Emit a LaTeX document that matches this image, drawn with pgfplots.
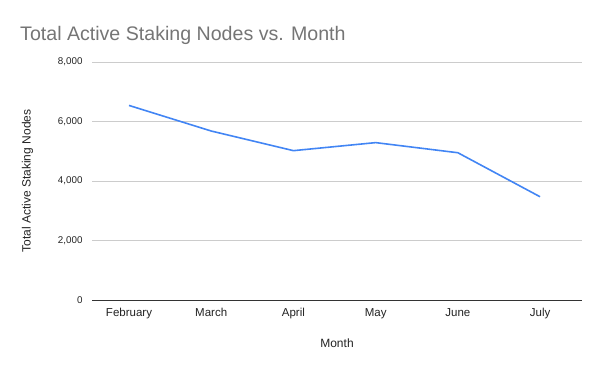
\documentclass[border=0pt]{standalone}
\usepackage{pgfplots}
\pgfplotsset{compat=1.18}
\usepackage{fontspec}
\setmainfont{Liberation Sans}
\definecolor{lineblue}{HTML}{4285F4}
\definecolor{titlegray}{HTML}{757575}
\definecolor{gridgray}{HTML}{CCCCCC}
\definecolor{labelblack}{HTML}{222222}
\begin{document}
\begin{tikzpicture}[x=1bp,y=1bp]
\useasboundingbox (0,0) rectangle (600,371);
\node[anchor=base west, text=titlegray, font=\fontsize{19.6bp}{22bp}\selectfont, inner sep=0pt] at (20,331) {Total Active Staking Nodes vs. Month};
\begin{axis}[
  at={(92bp,71bp)}, anchor=south west,
  scale only axis, width=490bp, height=238bp,
  xmin=-0.45, xmax=5.51, ymin=0, ymax=8000,
  xtick={0,1,2,3,4,5},
  xticklabels={February,March,April,May,June,July},
  ytick={0,2000,4000,6000,8000},
  /pgf/number format/assume math mode=true,
  /pgf/number format/1000 sep={,},
  scaled y ticks=false,
  axis line style={draw=none},
  major tick length=0pt,
  ymajorgrids, grid style={gridgray, line width=0.8pt},
  xticklabel style={font=\fontsize{11.5bp}{13bp}\selectfont, text=labelblack, yshift=-5bp},
  yticklabel style={font=\fontsize{9.8bp}{12bp}\selectfont, text=labelblack, xshift=-6bp},
  xlabel={Month}, ylabel={Total Active Staking Nodes},
  label style={font=\fontsize{12bp}{14bp}\selectfont, text=labelblack},
  xlabel style={yshift=-13bp},
  ylabel style={yshift=18bp},
  clip=false,
]
\addplot[lineblue, line width=1.6pt, line join=round] coordinates {
  (0,6540) (1,5680) (2,5020) (3,5290) (4,4950) (5,3470)
};
\draw[color=black!80, line width=0.9pt] (axis cs:-0.45,0) -- (axis cs:5.51,0);
\end{axis}
\end{tikzpicture}
\end{document}
